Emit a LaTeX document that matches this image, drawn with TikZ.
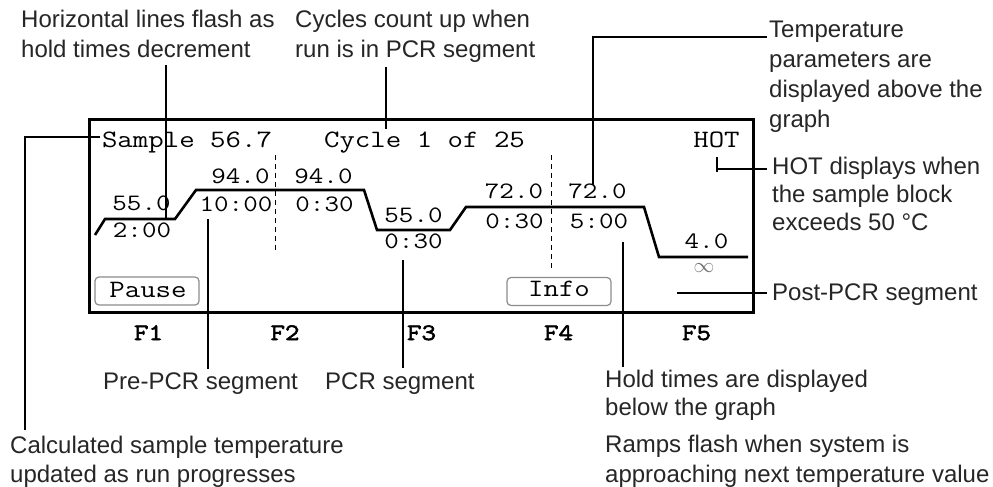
\documentclass[tikz,border=0pt]{standalone}
\usepackage{fontspec}
\setmainfont{Liberation Sans}
\newfontfamily\lcd[FakeStretch=1.2]{Latin Modern Mono}
\newfontfamily\lcdb[FakeStretch=1.2,FakeBold=2.5]{Latin Modern Mono}
\tikzset{
  lbl/.style={font=\fontsize{24}{29}\selectfont, inner sep=0pt, align=left, anchor=base west, text=black!85},
  bigtxt/.style={font=\lcd\fontsize{25}{30}\selectfont, inner sep=0pt, anchor=base},
  numtxt/.style={font=\lcd\fontsize{23.5}{28}\selectfont, inner sep=0pt, anchor=base},
  fkey/.style={font=\lcdb\fontsize{23.5}{28}\selectfont, inner sep=0pt, anchor=base},
  leader/.style={line width=1.2pt, black},
  trace/.style={line width=2.6pt, black},
  btn/.style={draw=black!45, line width=1.2pt, rounded corners=4pt, fill=white, minimum width=104pt, minimum height=28pt, inner sep=0pt},
  divline/.style={line width=1pt, dash pattern=on 5pt off 4pt},
}
\begin{document}
\begin{tikzpicture}[x=1pt,y=-1pt]
\fill[white] (0,0) rectangle (993,487);
\useasboundingbox (0,0) rectangle (993,487);

% display frame
\draw[line width=3pt] (89,119) rectangle (753,312);

% header texts
\node[bigtxt] (sample) at (187,147) {Sample 56.7};
\node[bigtxt] (cycle) at (424.5,147) {Cycle 1 of 25};
\node[bigtxt] (hot) at (716.5,147) {HOT};

% dashed separators
\draw[divline] (275,155) -- (275,253);
\draw[divline] (551,155) -- (551,268);

% temperature profile
\draw[trace] (95,235) -- (105,219) -- (175,219) -- (196,190) -- (364,190) -- (377,230)
  -- (450,230) -- (466,207) -- (644,207) -- (659,257) -- (748,257);

% values
\node[numtxt] (t1) at (141.5,210) {55.0};
\node[numtxt] (h1) at (142,237) {2:00};
\node[numtxt] (t2) at (240.5,183) {94.0};
\node[numtxt] (h2) at (236,211) {10:00};
\node[numtxt] (t3) at (323.5,183) {94.0};
\node[numtxt] (h3) at (324.5,211) {0:30};
\node[numtxt] (t4) at (413.5,222) {55.0};
\node[numtxt] (h4) at (413.5,248) {0:30};
\node[numtxt] (t5) at (514,198) {72.0};
\node[numtxt] (h5) at (514.5,228) {0:30};
\node[numtxt] (t6) at (597.5,198) {72.0};
\node[numtxt] (h6) at (599,228) {5:00};
\node[numtxt] (t7) at (706.5,248) {4.0};
\node[inner sep=0pt, text=black!55, font=\fontsize{22}{24}\selectfont] (h7) at (704,268) {$\infty$};

% buttons
\node[btn] (pause) at (147,291) {};
\node[bigtxt] at (148,297) {Pause};
\node[btn] (info) at (559,291.5) {};
\node[bigtxt] at (559,296) {Info};

% function keys
\node[fkey] (f1) at (148.5,340) {F1};
\node[fkey] (f2) at (285,340) {F2};
\node[fkey] (f3) at (421.5,340) {F3};
\node[fkey] (f4) at (558.5,340) {F4};
\node[fkey] (f5) at (696.5,340) {F5};

% callout labels (anchor = baseline of the last line)
\node[lbl, font=\fontsize{24}{30}\selectfont] (lh) at (21,58) {Horizontal lines flash as\\hold times decrement};
\node[lbl, font=\fontsize{24}{30}\selectfont] (lc) at (295,58) {Cycles count up when\\run is in PCR segment};
\node[lbl, font=\fontsize{24}{29.7}\selectfont] (lt) at (769,127) {Temperature\\parameters are\\displayed above the\\graph};
\node[lbl, font=\fontsize{24}{28}\selectfont] (lhot) at (772,230) {HOT displays when\\the sample block\\exceeds 50 °C};
\node[lbl] (lpost) at (772,300) {Post-PCR segment};
\node[lbl] (lpre) at (103,389) {Pre-PCR segment};
\node[lbl] (lpcr) at (325,389) {PCR segment};
\node[lbl, font=\fontsize{24}{28}\selectfont] (lhold) at (605,415) {Hold times are displayed\\below the graph};
\node[lbl, font=\fontsize{24}{30}\selectfont] (lramp) at (605,482) {Ramps flash when system is\\approaching next temperature value};
\node[lbl] (lcalc) at (10,482) {Calculated sample temperature\\updated as run progresses};

% leader lines
\draw[leader] (166,65) -- (166,218);
\draw[leader] (386,67) -- (386,129);
\draw[leader] (767,37) -- (593,37) -- (593,185);
\draw[leader] (767,169) -- (717,169);
\draw[leader] (717,157) -- (717,172);
\draw[leader] (677,293) -- (767,293);
\draw[leader] (100,137) -- (25,137) -- (25,430);
\draw[leader] (208,219) -- (208,369);
\draw[leader] (403,260) -- (403,368);
\draw[leader] (623,242) -- (623,367);
\end{tikzpicture}
\end{document}
